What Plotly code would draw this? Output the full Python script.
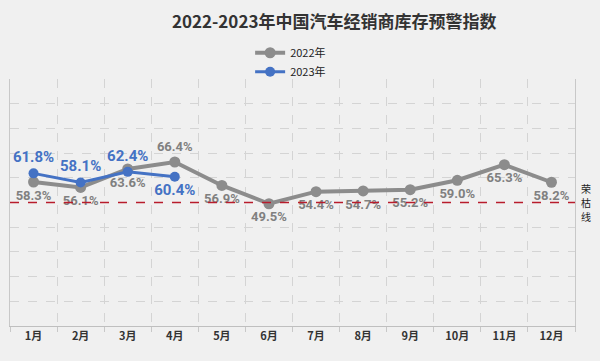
import plotly.graph_objects as go

months = ["1月", "2月", "3月", "4月", "5月", "6月", "7月", "8月", "9月", "10月", "11月", "12月"]
values_2022 = [58.3, 56.1, 63.6, 66.4, 56.9, 49.5, 54.4, 54.7, 55.2, 59.0, 65.3, 58.2]
values_2023 = [61.8, 58.1, 62.4, 60.4]
pos_2022 = ["bottom center", "bottom center", "bottom center", "top center"] + ["bottom center"] * 8
pos_2023 = ["top center", "top center", "top center", "bottom center"]
BOOM_BUST = 50
boom_bust_label = "荣枯线"
title_text = "2022-2023年中国汽车经销商库存预警指数"

idx = list(range(len(months)))
label_font = "Liberation Sans Narrow, Arial Narrow, Roboto, sans-serif"

fig = go.Figure()
fig.add_trace(go.Scatter(
    x=idx, y=values_2022, name="2022年", mode="lines+markers+text",
    line=dict(color="#8c8c8c", width=4),
    marker=dict(color="#8c8c8c", size=11),
    text=[f"{v:.1f}%" for v in values_2022], textposition=pos_2022,
    textfont=dict(family=label_font, size=13, color="#808080", weight="bold"),
))
fig.add_trace(go.Scatter(
    x=idx[:len(values_2023)], y=values_2023, name="2023年", mode="lines+markers+text",
    line=dict(color="#4472c4", width=3),
    marker=dict(color="#4472c4", size=10),
    text=[f"{v:.1f}%" for v in values_2023], textposition=pos_2023,
    textfont=dict(family=label_font, size=15, color="#4472c4", weight="bold"),
))

fig.add_shape(type="line", xref="paper", x0=0, x1=1, yref="y", y0=BOOM_BUST, y1=BOOM_BUST,
              line=dict(color="#b81c2c", width=1.5, dash="dash"))
# vertical label, one character per line
n_chars = len(boom_bust_label)
step = 14
for k, ch in enumerate(boom_bust_label):
    fig.add_annotation(xref="paper", x=1.0, xanchor="left", xshift=5, yref="y", y=BOOM_BUST,
                       yshift=(n_chars - 1) / 2 * step - k * step, text=ch, showarrow=False,
                       borderpad=0,
                       font=dict(family="Noto Sans CJK SC", size=10, color="#222222"))

fig.update_layout(
    width=600, height=361,
    margin=dict(l=10, r=25, t=79, b=35),
    paper_bgcolor="#f0f0f0", plot_bgcolor="#f0f0f0",
    title=dict(text=title_text, x=0.557, xanchor="center", y=0.94, yanchor="middle",
               font=dict(family="Noto Sans CJK SC", size=17, color="#333333", weight="bold")),
    legend=dict(orientation="v", x=0.425, xanchor="left", y=1.165, yanchor="top",
                bgcolor="rgba(0,0,0,0)", font=dict(family="Noto Sans CJK SC", size=11, color="#222222"),
                tracegroupgap=0, itemwidth=30),
    showlegend=True,
)
fig.update_xaxes(
    range=[-0.5, len(months) - 0.5], tickvals=idx, ticktext=months, ticks="",
    showgrid=False, zeroline=False,
    showline=True, linecolor="#bfbfbf", linewidth=1,
    tickfont=dict(family="Noto Sans CJK SC", size=11, color="#333333", weight="bold"),
    minor=dict(tickvals=[i - 0.5 for i in range(len(months) + 1)], showgrid=True,
               gridcolor="#d4d4d4", griddash="dash", gridwidth=1,
               ticks="outside", ticklen=5, tickcolor="#c8c8c8"),
)
fig.update_yaxes(
    range=[0, 100], dtick=10, showticklabels=False, zeroline=False,
    showgrid=True, gridcolor="#d4d4d4", griddash="dash", gridwidth=1,
    showline=True, mirror=True, linecolor="#c8c8c8", linewidth=1,
)

fig.write_html("out.html", config={"displayModeBar": False},
               post_script="document.body.style.margin='0';document.body.style.background='#f0f0f0';")
